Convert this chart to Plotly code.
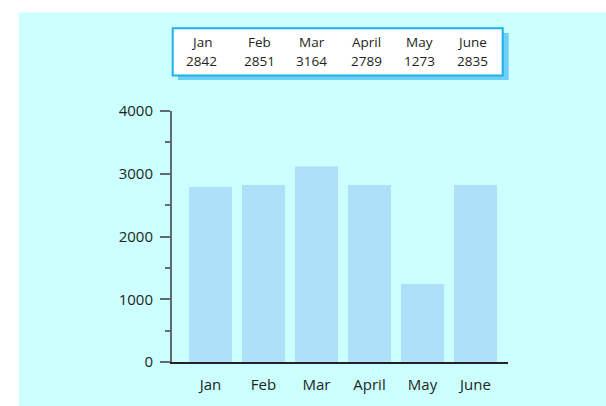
import plotly.graph_objects as go

months = ["Jan", "Feb", "Mar", "April", "May", "June"]
table_values = [2842, 2851, 3164, 2789, 1273, 2835]
bar_values = [2790, 2820, 3120, 2820, 1245, 2820]
y_ticks = [0, 1000, 2000, 3000, 4000]

W, H = 606, 406
L, R, T, B = 172, 98, 110.5, 39.5
PW, PH = W - L - R, H - T - B

def px(x):
    return (x - L) / PW

def py(y):
    return (H - B - y) / PH

FONT = "Open Sans"
TXT = "#231F20"

fig = go.Figure(go.Bar(
    x=list(range(len(months))), y=bar_values,
    marker=dict(color="#AEE0FA", line=dict(width=0)),
    width=43 / 53, hoverinfo="skip",
))

shapes = [
    dict(type="rect", xref="paper", yref="paper", x0=px(19), x1=px(640), y0=py(10), y1=py(440),
         fillcolor="#CCFFFF", line=dict(width=0), layer="below"),
    dict(type="rect", xref="paper", yref="paper", x0=px(178), x1=px(508.7), y0=py(31), y1=py(79),
         fillcolor="#6DCFF5", line=dict(width=0), layer="above"),
    dict(type="rect", xref="paper", yref="paper", x0=px(172.7), x1=px(502.7), y0=py(26), y1=py(74.3),
         fillcolor="white", line=dict(width=2, color="#1BB1E9"), layer="above"),
]

col_x = [201.7, 259, 311.7, 366.7, 419.3, 472.3]
annotations = []
for cx, m, v in zip(col_x, months, table_values):
    annotations.append(dict(xref="paper", yref="paper", x=px(cx), y=py(40.5), text=m, showarrow=False,
                            xanchor="center", yanchor="middle", font=dict(family=FONT, size=13.5, color=TXT)))
    annotations.append(dict(xref="paper", yref="paper", x=px(cx), y=py(59), text=str(v), showarrow=False,
                            xanchor="center", yanchor="middle", font=dict(family=FONT, size=13.5, color=TXT)))

fig.update_layout(
    width=W, height=H, autosize=False,
    margin=dict(l=L, r=R, t=T, b=B, pad=0),
    paper_bgcolor="white", plot_bgcolor="rgba(0,0,0,0)",
    showlegend=False, shapes=shapes, annotations=annotations,
    font=dict(family=FONT, size=15, color=TXT),
    xaxis=dict(range=[-38.5 / 53, (508 - 210.5) / 53], tickmode="array",
               tickvals=list(range(len(months))), ticktext=months,
               showgrid=False, zeroline=False, showline=True, linecolor="#222222", linewidth=1.5,
               ticks="", ticklabelstandoff=8, fixedrange=True),
    yaxis=dict(range=[0, 4000], tickmode="array", tickvals=y_ticks, ticktext=[str(t) for t in y_ticks],
               showgrid=False, zeroline=False, showline=True, linecolor="#5E6B6B", linewidth=2,
               ticks="outside", ticklen=10, tickwidth=1.5, tickcolor="#5E6B6B",
               minor=dict(dtick=500, ticks="outside", ticklen=5, tickwidth=1.5, tickcolor="#5E6B6B", showgrid=False),
               ticklabelstandoff=4, fixedrange=True),
)

fig.write_html("out.html", config={"displayModeBar": False})

with open("out.html", "r", encoding="utf-8") as f:
    html = f.read()
html = html.replace("<body>", '<body style="margin:0;padding:0;overflow:hidden">', 1)
with open("out.html", "w", encoding="utf-8") as f:
    f.write(html)
